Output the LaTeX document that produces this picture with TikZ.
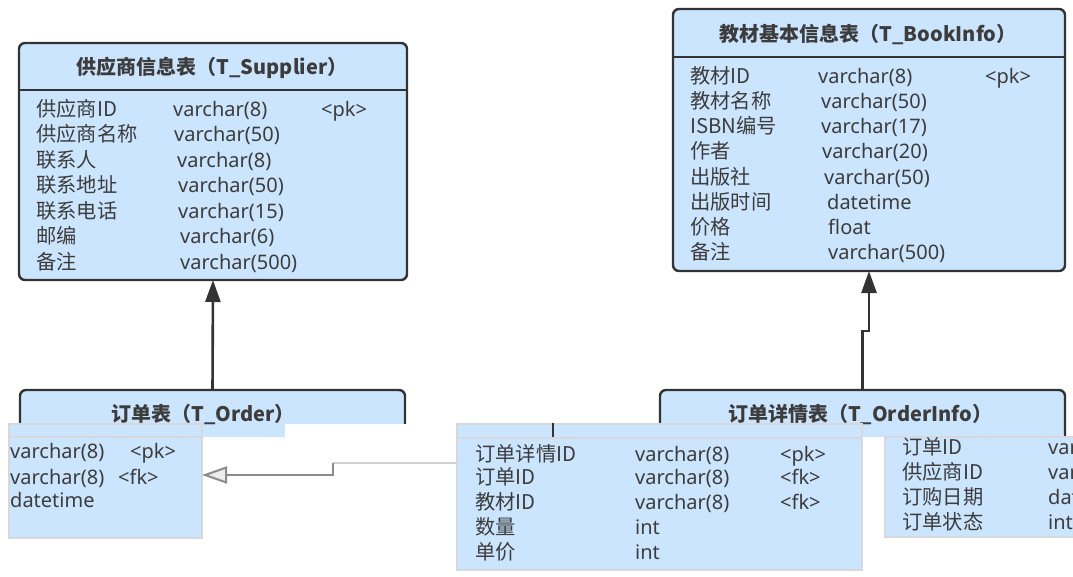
\documentclass[tikz,border=0pt]{standalone}
\usepackage{fontspec}
\setmainfont{Noto Sans CJK SC}
\newfontfamily\latinfont{Noto Sans}
\usetikzlibrary{arrows.meta}
\definecolor{tblue}{RGB}{204,229,255}
\definecolor{tline}{RGB}{51,51,51}
\definecolor{ttext}{RGB}{60,60,60}
\definecolor{pale}{RGB}{215,215,222}
\tikzset{
  tbl/.style={draw=tline, line width=2.4pt, fill=tblue, rounded corners=6pt, inner sep=0pt, outer sep=0pt},
  hdr/.style={draw=none, fill=tblue, rounded corners=6pt, inner sep=0pt, outer sep=0pt},
  hdrline/.style={draw=tline, line width=2.4pt, rounded corners=6pt},
  frag/.style={draw=pale, line width=1.2pt, fill=tblue, inner sep=0pt, outer sep=0pt},
  ttl/.style={font=\fontsize{20}{22}\selectfont\bfseries, text=ttext, inner sep=0pt, yshift=-1pt},
  fld/.style={font=\fontsize{20.3}{22}\selectfont, text=ttext, anchor=west, inner sep=0pt, text height=0.88em, text depth=0.12em, yshift=-3pt},
  typ/.style={font=\latinfont\fontsize{20}{22}\selectfont, text=ttext, anchor=west, inner sep=0pt, text height=0.88em, text depth=0.12em, yshift=-3pt},
  conn/.style={draw=tline, line width=2.6pt, -{Triangle[length=22pt,width=15pt]}},
}
\begin{document}
\begin{tikzpicture}[x=1pt,y=-1pt]
\useasboundingbox (0,0) rectangle (1073,577);
\clip (0,0) rectangle (1073,577);
\fill[white] (0,0) rectangle (1073,577);

% ---------- T_Supplier ----------
\node[tbl, minimum width=388pt, minimum height=237pt] (sup) at (213,161.5) {};
\draw[draw=tline, line width=2.4pt] (sup.west |- 0,90) -- (sup.east |- 0,90);
\node[ttl] (supt) at (212,67) {供应商信息表（T\_Supplier）};
\node[fld] (s1) at (36,110) {供应商ID};
\node[fld] (s2) at (36,135) {供应商名称};
\node[fld] (s3) at (36,161) {联系人};
\node[fld] (s4) at (36,186) {联系地址};
\node[fld] (s5) at (36,212) {联系电话};
\node[fld] (s6) at (36,237) {邮编};
\node[fld] (s7) at (36,263) {备注};
\node[typ] (st1) at (173,110) {varchar(8)};
\node[typ] (st2) at (174,135) {varchar(50)};
\node[typ] (st3) at (177,161) {varchar(8)};
\node[typ] (st4) at (178,186) {varchar(50)};
\node[typ] (st5) at (178,212) {varchar(15)};
\node[typ] (st6) at (180,237) {varchar(6)};
\node[typ] (st7) at (180,263) {varchar(500)};
\node[typ] (sp1) at (321,110) {<pk>};

% ---------- T_BookInfo ----------
\node[tbl, minimum width=392pt, minimum height=262pt] (bk) at (869,140) {};
\draw[draw=tline, line width=2.4pt] (bk.west |- 0,57) -- (bk.east |- 0,57);
\node[ttl] (bkt) at (868,33) {教材基本信息表（T\_BookInfo）};
\node[fld] (b1) at (690,77) {教材ID};
\node[fld] (b2) at (690,102) {教材名称};
\node[fld] (b3) at (690,127) {ISBN编号};
\node[fld] (b4) at (690,152) {作者};
\node[fld] (b5) at (690,178) {出版社};
\node[fld] (b6) at (690,203) {出版时间};
\node[fld] (b7) at (690,228) {价格};
\node[fld] (b8) at (690,253) {备注};
\node[typ] (bt1) at (818,77) {varchar(8)};
\node[typ] (bt2) at (821,102) {varchar(50)};
\node[typ] (bt3) at (821,127) {varchar(17)};
\node[typ] (bt4) at (822,152) {varchar(20)};
\node[typ] (bt5) at (824,178) {varchar(50)};
\node[typ] (bt6) at (827,203) {datetime};
\node[typ] (bt7) at (828,228) {float};
\node[typ] (bt8) at (828,253) {varchar(500)};
\node[typ] (bp1) at (985,77) {<pk>};

% ---------- T_Order header ----------
\node[hdr, minimum width=385pt, minimum height=47pt] (ord) at (212.5,413.5) {};
\draw[hdrline] (ord.south west) -- (ord.north west) -- (ord.north east) -- (ord.south east);
\node[ttl] (ordt) at (203,413) {订单表（T\_Order）};

% ---------- T_OrderInfo header ----------
\node[hdr, minimum width=405pt, minimum height=47pt] (oi) at (862.5,413.5) {};
\draw[hdrline] (oi.south west) -- (oi.north west) -- (oi.north east) -- (oi.south east);
\node[ttl] (oit) at (860,413) {订单详情表（T\_OrderInfo）};

% ---------- connectors to parent tables ----------
\draw[conn] (ord.north) -- (sup.south);
\draw[conn] (oi.north) -- ++(0,-59) -| (bk.south);

% ---------- displaced fragments ----------
\fill[white] (285,424) rectangle (457,577);

% fragment A (left)
\node[frag, minimum width=193pt, minimum height=114pt] (fa) at (105.5,481) {};
\draw[pale, line width=1.2pt] (fa.west |- 0,437) -- (fa.east |- 0,437);
\node[typ] (a1) at (10,452) {varchar(8)};
\node[typ] (a1p) at (130,452) {<pk>};
\node[typ] (a2) at (10,478) {varchar(8)};
\node[typ] (a2p) at (118,478) {<fk>};
\node[typ] (a3) at (10,501) {datetime};

% fragment B (middle)
\node[frag, minimum width=405pt, minimum height=146pt] (fb) at (659.5,497) {};
\draw[pale, line width=1.2pt] (fb.west |- 0,438) -- (fb.east |- 0,438);
\draw[tline, line width=1.6pt] (553,423) -- (553,437);
\node[fld] (m1) at (475,455) {订单详情ID};
\node[fld] (m2) at (475,478) {订单ID};
\node[fld] (m3) at (475,503) {教材ID};
\node[fld] (m4) at (475,528) {数量};
\node[fld] (m5) at (475,553) {单价};
\node[typ] (mt1) at (635,455) {varchar(8)};
\node[typ] (mt2) at (635,478) {varchar(8)};
\node[typ] (mt3) at (635,503) {varchar(8)};
\node[typ] (mt4) at (635,528) {int};
\node[typ] (mt5) at (635,553) {int};
\node[typ] (mp1) at (780,455) {<pk>};
\node[typ] (mp2) at (780,478) {<fk>};
\node[typ] (mp3) at (780,503) {<fk>};

% fragment C (right)
\node[frag, minimum width=200pt, minimum height=100pt] (fc) at (985,487) {};
\node[fld] (c1) at (902,448) {订单ID};
\node[fld] (c2) at (902,473) {供应商ID};
\node[fld] (c3) at (902,498) {订购日期};
\node[fld] (c4) at (902,523) {订单状态};
\node[typ] (ct1) at (1048,448) {varchar(8)};
\node[typ] (ct2) at (1048,473) {varchar(8)};
\node[typ] (ct3) at (1048,498) {datetime};
\node[typ] (ct4) at (1048,523) {int};

% ---------- foreign-key connector ----------
\coordinate (cs) at (fb.west |- 0,463);
\coordinate (cm) at (333,463);
\coordinate (ce) at (fa.east |- 0,475);
\draw[gray!35, line width=2pt] (cs) -- (cm);
\draw[gray!90, line width=2pt, -{Triangle[open, length=25pt, width=17pt, fill=gray!15]}] (cm) |- (ce);
\end{tikzpicture}
\end{document}
